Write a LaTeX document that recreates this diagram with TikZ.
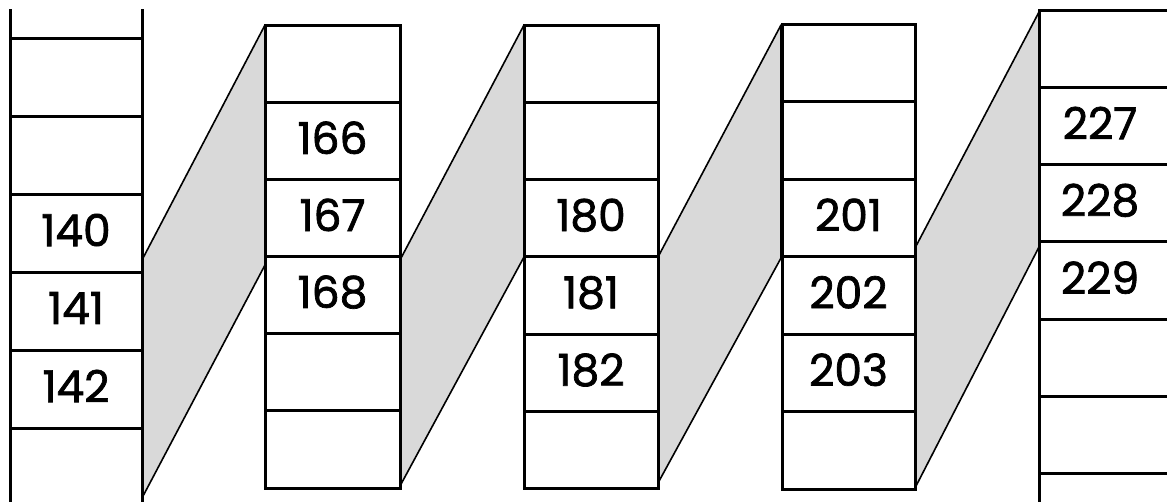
\documentclass[tikz,border=0pt]{standalone}
\usepackage{fontspec}
\setmainfont{Poppins}
\newfontfamily\numfont{Poppins}[FakeBold=1.6]
\definecolor{shade}{HTML}{D9D9D9}
\tikzset{
  cellbox/.style={draw=black, line width=3pt, inner sep=0pt, outer sep=0pt},
  num/.style={inner sep=0pt, font=\numfont\fontsize{44}{48}\selectfont},
  band/.style={fill=shade, draw=black, line width=1.6pt, line join=round}
}
\begin{document}
\begin{tikzpicture}[x=1pt,y=-1pt]
\useasboundingbox (0,0) rectangle (1167,501);
\clip (0,0) rectangle (1167,501);
% bands between columns
\coordinate (p1a) at (142,260); \coordinate (p1b) at (265,25); \coordinate (p1c) at (265,265); \coordinate (p1d) at (142,498);
\coordinate (p2a) at (400,260); \coordinate (p2b) at (524,25); \coordinate (p2c) at (524,257); \coordinate (p2d) at (400,486);
\coordinate (p3a) at (658,257); \coordinate (p3b) at (781,25); \coordinate (p3c) at (781,258); \coordinate (p3d) at (658,483);
\coordinate (p4a) at (915,248); \coordinate (p4b) at (1039,12); \coordinate (p4c) at (1039,247); \coordinate (p4d) at (915,488);
\draw[band] (p1a) -- (p1b) -- (p1c) -- (p1d) -- cycle;
\draw[band] (p2a) -- (p2b) -- (p2c) -- (p2d) -- cycle;
\draw[band] (p3a) -- (p3b) -- (p3c) -- (p3d) -- cycle;
\draw[band] (p4a) -- (p4b) -- (p4c) -- (p4d) -- cycle;
% column 1
\begin{scope}
\clip (0,9) rectangle (150,501);
\foreach \i in {0,...,6}{
  \node[cellbox, minimum width=132pt, minimum height=78pt] (c1-\i) at (76,{-40+78*(\i+0.5)}) {};
}
\end{scope}
% column 2
\foreach \i in {0,...,5}{
  \node[cellbox, minimum width=135pt, minimum height=77.17pt] (c2-\i) at (332.5,{25+77.17*(\i+0.5)}) {};
}
% column 3
\foreach \i in {0,...,5}{
  \node[cellbox, minimum width=134pt, minimum height=77.33pt] (c3-\i) at (591,{25+77.33*(\i+0.5)}) {};
}
% column 4
\foreach \i in {0,...,5}{
  \node[cellbox, minimum width=133pt, minimum height=77.5pt] (c4-\i) at (848.5,{24+77.5*(\i+0.5)}) {};
}
% column 5
\foreach \i in {0,...,6}{
  \node[cellbox, minimum width=150pt, minimum height=77.33pt] (c5-\i) at (1114,{10+77.33*(\i+0.5)}) {};
}
% labels
\node[num] (n140) at ([yshift=3pt]c1-3.center) {140};
\node[num] (n141) at ([yshift=3pt]c1-4.center) {141};
\node[num] (n142) at ([yshift=3pt]c1-5.center) {142};
\node[num] (n166) at ([yshift=3pt]c2-1.center) {166};
\node[num] (n167) at ([yshift=3pt]c2-2.center) {167};
\node[num] (n168) at ([yshift=3pt]c2-3.center) {168};
\node[num] (n180) at ([yshift=3pt]c3-2.center) {180};
\node[num] (n181) at ([yshift=3pt]c3-3.center) {181};
\node[num] (n182) at ([yshift=3pt]c3-4.center) {182};
\node[num] (n201) at ([yshift=3pt]c4-2.center) {201};
\node[num] (n202) at ([yshift=3pt]c4-3.center) {202};
\node[num] (n203) at ([yshift=3pt]c4-4.center) {203};
\node[num] (n227) at ([xshift=-14pt,yshift=3pt]c5-1.center) {227};
\node[num] (n228) at ([xshift=-14pt,yshift=3pt]c5-2.center) {228};
\node[num] (n229) at ([xshift=-14pt,yshift=3pt]c5-3.center) {229};
\end{tikzpicture}
\end{document}
